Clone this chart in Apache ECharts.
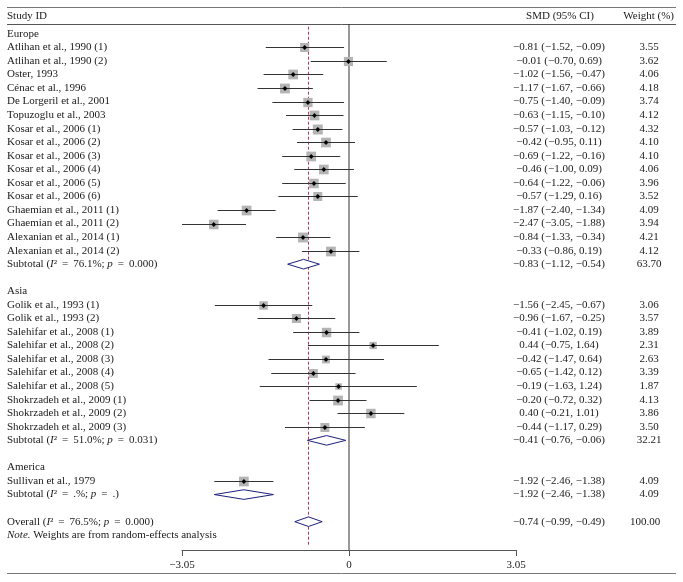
<!DOCTYPE html>
<html><head><meta charset="utf-8">
<script src="https://cdn.jsdelivr.net/npm/echarts@6/dist/echarts.min.js"></script>
<style>html,body{margin:0;padding:0;background:#fff}#c{width:683px;height:582px}</style>
</head><body><div id="c"></div>
<script>
// ---------- data ----------
const groupNames = ['Europe', 'Asia', 'America'];
const groupSizes = [16, 10, 1];
const studyLabels = [
  'Atlihan et al., 1990 (1)', 'Atlihan et al., 1990 (2)', 'Oster, 1993', 'Cénac et al., 1996',
  'De Lorgeril et al., 2001', 'Topuzoglu et al., 2003', 'Kosar et al., 2006 (1)', 'Kosar et al., 2006 (2)',
  'Kosar et al., 2006 (3)', 'Kosar et al., 2006 (4)', 'Kosar et al., 2006 (5)', 'Kosar et al., 2006 (6)',
  'Ghaemian et al., 2011 (1)', 'Ghaemian et al., 2011 (2)', 'Alexanian et al., 2014 (1)', 'Alexanian et al., 2014 (2)',
  'Golik et al., 1993 (1)', 'Golik et al., 1993 (2)', 'Salehifar et al., 2008 (1)', 'Salehifar et al., 2008 (2)',
  'Salehifar et al., 2008 (3)', 'Salehifar et al., 2008 (4)', 'Salehifar et al., 2008 (5)', 'Shokrzadeh et al., 2009 (1)',
  'Shokrzadeh et al., 2009 (2)', 'Shokrzadeh et al., 2009 (3)',
  'Sullivan et al., 1979'
];
const smd = [-0.81, -0.01, -1.02, -1.17, -0.75, -0.63, -0.57, -0.42, -0.69, -0.46, -0.64, -0.57, -1.87, -2.47, -0.84, -0.33,
  -1.56, -0.96, -0.41, 0.44, -0.42, -0.65, -0.19, -0.20, 0.40, -0.44,
  -1.92];
const ciLow = [-1.52, -0.70, -1.56, -1.67, -1.40, -1.15, -1.03, -0.95, -1.22, -1.00, -1.22, -1.29, -2.40, -3.05, -1.33, -0.86,
  -2.45, -1.67, -1.02, -0.75, -1.47, -1.42, -1.63, -0.72, -0.21, -1.17,
  -2.46];
const ciHigh = [-0.09, 0.69, -0.47, -0.66, -0.09, -0.10, -0.12, 0.11, -0.16, 0.09, -0.06, 0.16, -1.34, -1.88, -0.34, 0.19,
  -0.67, -0.25, 0.19, 1.64, 0.64, 0.12, 1.24, 0.32, 1.01, 0.29,
  -1.38];
const weights = [3.55, 3.62, 4.06, 4.18, 3.74, 4.12, 4.32, 4.10, 4.10, 4.06, 3.96, 3.52, 4.09, 3.94, 4.21, 4.12,
  3.06, 3.57, 3.89, 2.31, 2.63, 3.39, 1.87, 4.13, 3.86, 3.50,
  4.09];
const subSmd = [-0.83, -0.41, -1.92];
const subLow = [-1.12, -0.76, -2.46];
const subHigh = [-0.54, -0.06, -1.38];
const subWeight = [63.70, 32.21, 4.09];
const subI2 = ['76.1%', '51.0%', '.%'];
const subP = ['0.000', '0.031', '.'];
const overall = { smd: -0.74, low: -0.99, high: -0.49, weight: 100.00, i2: '76.5%', p: '0.000' };
const xTicks = [-3.05, 0, 3.05];

// ---------- build rows ----------
const rows = [];
let s = 0;
groupNames.forEach((g, gi) => {
  rows.push({ kind: 'group', text: g });
  for (let k = 0; k < groupSizes[gi]; k++) { rows.push({ kind: 'study', i: s }); s++; }
  rows.push({ kind: 'sub', g: gi });
  rows.push({ kind: 'blank' });
});
rows.push({ kind: 'overall' });
rows.push({ kind: 'note' });

const FONT = '"Liberation Serif", "DejaVu Serif", serif';
const FS = 11;
const TXT = '#1a1a1a';
const fmt = v => v.toFixed(2).replace('-', '\u2212');
const ci = (e, l, h) => fmt(e) + ' (' + fmt(l) + ', ' + fmt(h) + ')';
const EQ = '\u2009=\u2009 ';

const studyData = [], diamondData = [], textData = [];
rows.forEach((r, ri) => {
  textData.push([0, ri]);
  if (r.kind === 'study') studyData.push([smd[r.i], ri, ciLow[r.i], ciHigh[r.i], weights[r.i]]);
  if (r.kind === 'sub') diamondData.push([subSmd[r.g], ri, subLow[r.g], subHigh[r.g]]);
  if (r.kind === 'overall') diamondData.push([overall.smd, ri, overall.low, overall.high]);
});

const Y_MIN = -0.723, Y_MAX = 38.09;
const rich = {
  i: { fontFamily: FONT, fontSize: FS, fontStyle: 'italic', fill: TXT }
};

function textEl(x, y, text, align, isRich) {
  return {
    type: 'text', x: x, y: y,
    style: { text: text, fontFamily: FONT, fontSize: FS, fill: TXT, align: align, verticalAlign: 'middle', rich: isRich ? rich : undefined }
  };
}

const chart = echarts.init(document.getElementById('c'), null, { renderer: 'canvas' });
chart.setOption({
  animation: false,
  backgroundColor: '#fff',
  grid: { left: 182, width: 334, top: 24, height: 526 },
  xAxis: {
    type: 'value', min: -3.05, max: 3.05, interval: 3.05, position: 'bottom',
    axisLine: { show: true, onZero: false, lineStyle: { color: '#555', width: 1 } },
    axisTick: { show: true, length: 6, lineStyle: { color: '#555' } },
    splitLine: { show: false },
    axisLabel: {
      margin: 10, fontFamily: FONT, fontSize: FS, color: TXT,
      formatter: v => (Math.abs(v) < 1e-9 ? '0' : fmt(v))
    }
  },
  yAxis: { type: 'value', inverse: true, min: Y_MIN, max: Y_MAX, show: false, splitLine: { show: false } },
  graphic: [
    { type: 'line', shape: { x1: 7, y1: 7.5, x2: 676, y2: 7.5 }, style: { stroke: '#777', lineWidth: 1 } },
    { type: 'line', shape: { x1: 7, y1: 24.5, x2: 676, y2: 24.5 }, style: { stroke: '#555', lineWidth: 1 } },
    { type: 'line', shape: { x1: 7, y1: 573.5, x2: 676, y2: 573.5 }, style: { stroke: '#777', lineWidth: 1 } },
    { type: 'text', x: 7, y: 16.5, style: { text: 'Study ID', fontFamily: FONT, fontSize: FS, fill: TXT, verticalAlign: 'middle' } },
    { type: 'text', x: 560, y: 16.5, style: { text: 'SMD (95% CI)', fontFamily: FONT, fontSize: FS, fill: TXT, align: 'center', verticalAlign: 'middle' } },
    { type: 'text', x: 674, y: 16.5, style: { text: 'Weight (%)', fontFamily: FONT, fontSize: FS, fill: TXT, align: 'right', verticalAlign: 'middle' } }
  ],
  series: [
    {
      type: 'line', silent: true, symbol: 'none', z: 1,
      data: [[0, Y_MIN], [0, Y_MAX]],
      lineStyle: { color: '#333', width: 1 }
    },
    {
      type: 'line', silent: true, symbol: 'none', z: 1,
      data: [[overall.smd, Y_MIN + 0.2], [overall.smd, 37.8]],
      lineStyle: { color: '#b0365a', width: 1, type: [3, 2] }
    },
    {
      type: 'custom', z: 3, encode: { x: 0, y: 1 },
      data: studyData,
      renderItem: (params, api) => {
        const c = api.coord([api.value(0), api.value(1)]);
        const l = api.coord([api.value(2), api.value(1)]);
        const h = api.coord([api.value(3), api.value(1)]);
        const sz = 4.8 * Math.sqrt(api.value(4));
        const y = Math.round(c[1]) + 0.5;
        const d = 2.4;
        return {
          type: 'group', children: [
            { type: 'rect', shape: { x: c[0] - sz / 2, y: y - sz / 2, width: sz, height: sz }, style: { fill: '#b4b4b4' } },
            { type: 'line', shape: { x1: l[0], y1: y, x2: h[0], y2: y }, style: { stroke: '#333', lineWidth: 1 } },
            { type: 'polygon', shape: { points: [[c[0] - d, y], [c[0], y - d], [c[0] + d, y], [c[0], y + d]] }, style: { fill: '#000' } }
          ]
        };
      }
    },
    {
      type: 'custom', z: 3, encode: { x: 0, y: 1 },
      data: diamondData,
      renderItem: (params, api) => {
        const c = api.coord([api.value(0), api.value(1)]);
        const l = api.coord([api.value(2), api.value(1)]);
        const h = api.coord([api.value(3), api.value(1)]);
        const y = c[1], hh = 4.8;
        return {
          type: 'polygon',
          shape: { points: [[l[0], y], [c[0], y - hh], [h[0], y], [c[0], y + hh]] },
          style: { fill: '#fff', stroke: '#1c1f7a', lineWidth: 1 }
        };
      }
    },
    {
      type: 'custom', z: 4, encode: { x: 0, y: 1 },
      data: textData,
      renderItem: (params, api) => {
        const ri = api.value(1);
        const r = rows[ri];
        const y = api.coord([0, ri])[1];
        const ch = [];
        if (r.kind === 'group') ch.push(textEl(7, y, r.text, 'left'));
        if (r.kind === 'study') {
          ch.push(textEl(7, y, studyLabels[r.i], 'left'));
          ch.push(textEl(559, y, ci(smd[r.i], ciLow[r.i], ciHigh[r.i]), 'center'));
          ch.push(textEl(649, y, weights[r.i].toFixed(2), 'center'));
        }
        if (r.kind === 'sub') {
          ch.push(textEl(7, y, 'Subtotal ({i|I}\u00B2 ' + EQ + subI2[r.g] + '; {i|p} ' + EQ + subP[r.g] + ')', 'left', true));
          ch.push(textEl(559, y, ci(subSmd[r.g], subLow[r.g], subHigh[r.g]), 'center'));
          ch.push(textEl(649, y, subWeight[r.g].toFixed(2), 'center'));
        }
        if (r.kind === 'overall') {
          ch.push(textEl(7, y, 'Overall ({i|I}\u00B2 ' + EQ + overall.i2 + '; {i|p} ' + EQ + overall.p + ')', 'left', true));
          ch.push(textEl(559, y, ci(overall.smd, overall.low, overall.high), 'center'));
          ch.push(textEl(645, y, overall.weight.toFixed(2), 'center'));
        }
        if (r.kind === 'note') ch.push(textEl(7, y, '{i|Note.} Weights are from random-effects analysis', 'left', true));
        return { type: 'group', children: ch };
      }
    }
  ]
});
</script>
</body></html>
